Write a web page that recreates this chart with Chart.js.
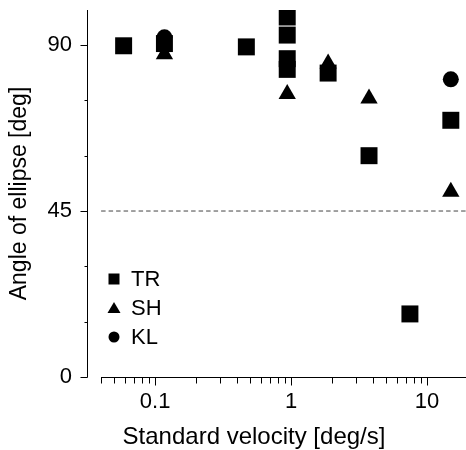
<!DOCTYPE html>
<html>
<head>
<meta charset="utf-8">
<script src="https://cdn.jsdelivr.net/npm/chart.js@4.4.0/dist/chart.umd.min.js"></script>
<style>
  html, body { margin: 0; padding: 0; background: #fff; }
</style>
</head>
<body>
<canvas id="ellipseChart" width="466" height="450"></canvas>
<script>
// values
const velTR = [0.0586, 0.117, 0.469, 0.9375, 0.9375, 0.9375, 0.9375, 1.875, 3.75, 7.5, 15];
const angTR = [89.8, 90.4, 89.5, 97.6, 92.7, 86.3, 83.4, 82.4, 60.0, 17.1, 69.6];
const velSH = [0.117, 0.9375, 1.875, 3.75, 15];
const angSH = [87.5, 76.7, 85.0, 75.5, 50.2];
const velKL = [0.117, 15];
const angKL = [92.1, 80.7];

const refVel = [0.04, 19.4];
const refAng = [45, 45];

const xTicks = [0.04, 0.05, 0.06, 0.07, 0.08, 0.09, 0.1, 0.2, 0.3, 0.4, 0.5, 0.6, 0.7, 0.8, 0.9,
                1, 2, 3, 4, 5, 6, 7, 8, 9, 10];
const xLabels = [0.1, 1, 10];
const yTicks = [0, 15, 30, 45, 60, 75, 90];
const yLabels = [0, 45, 90];

const seriesNames = ['TR', 'SH', 'KL'];
const xTitle = 'Standard velocity [deg/s]';

const font = 'Liberation Sans';

function pts(xs, ys) {
  return xs.map((x, i) => ({ x: x, y: ys[i] }));
}

// axis lines and tick marks of two lengths, drawn from the scales
const axisPlugin = {
  id: 'axes',
  afterDraw(chart) {
    const ctx = chart.ctx;
    const x = chart.scales.x;
    const y = chart.scales.y;
    const area = chart.chartArea;
    const left = Math.round(area.left) + 0.5;
    const bottom = Math.round(area.bottom) + 0.5;
    ctx.save();
    ctx.strokeStyle = '#000';
    ctx.lineWidth = 1;
    ctx.beginPath();
    ctx.moveTo(left, Math.round(area.top));
    ctx.lineTo(left, bottom);
    ctx.moveTo(Math.round(x.getPixelForValue(xTicks[0])), bottom);
    ctx.lineTo(area.right, bottom);
    x.ticks.forEach(t => {
      const px = Math.round(x.getPixelForValue(t.value)) + 0.5;
      const len = xLabels.includes(t.value) ? 8 : 6;
      ctx.moveTo(px, bottom);
      ctx.lineTo(px, bottom + len);
    });
    y.ticks.forEach(t => {
      const py = Math.round(y.getPixelForValue(t.value)) + 0.5;
      const len = yLabels.includes(t.value) ? 7 : 3;
      ctx.moveTo(left, py);
      ctx.lineTo(left - len, py);
    });
    ctx.stroke();

    // x title sits a bit left of the axis centre in the original
    ctx.fillStyle = '#000';
    ctx.font = '24px "' + font + '"';
    ctx.textAlign = 'center';
    ctx.textBaseline = 'middle';
    ctx.fillText(xTitle, area.left + 167, area.bottom + 60);
    ctx.restore();
  }
};

// legend sitting inside the plot, lower left
const legendPlugin = {
  id: 'innerLegend',
  afterDraw(chart) {
    const ctx = chart.ctx;
    const area = chart.chartArea;
    const mx = area.left + 27;
    const tx = area.left + 44;
    ctx.save();
    ctx.fillStyle = '#000';
    ctx.font = '22px "' + font + '"';
    ctx.textBaseline = 'middle';
    seriesNames.forEach((name, i) => {
      const my = area.top + 269 + i * 29;
      ctx.beginPath();
      if (i === 0) {
        ctx.rect(mx - 5.5, my - 5.5, 11, 11);
      } else if (i === 1) {
        ctx.moveTo(mx, my - 6);
        ctx.lineTo(mx + 6.5, my + 5);
        ctx.lineTo(mx - 6.5, my + 5);
        ctx.closePath();
      } else {
        ctx.arc(mx, my, 5.5, 0, Math.PI * 2);
      }
      ctx.fill();
      ctx.fillText(name, tx, my + 1);
    });
    ctx.restore();
  }
};

new Chart(document.getElementById('ellipseChart').getContext('2d'), {
  type: 'scatter',
  data: {
    datasets: [
      {
        label: 'TR',
        data: pts(velTR, angTR),
        pointStyle: 'rect',
        pointRadius: 12,
        backgroundColor: '#000',
        borderWidth: 0
      },
      {
        label: 'SH',
        data: pts(velSH, angSH),
        pointStyle: 'triangle',
        pointRadius: 10,
        backgroundColor: '#000',
        borderWidth: 0
      },
      {
        label: 'KL',
        data: pts(velKL, angKL),
        pointStyle: 'circle',
        pointRadius: 8,
        backgroundColor: '#000',
        borderWidth: 0
      },
      {
        type: 'line',
        label: 'ref',
        data: pts(refVel, refAng),
        borderColor: '#444',
        borderWidth: 1,
        borderDash: [4.5, 3],
        pointRadius: 0,
        fill: false
      }
    ]
  },
  options: {
    responsive: false,
    animation: false,
    events: [],
    layout: { autoPadding: false, padding: { top: 10, right: 0, left: 0, bottom: 0 } },
    scales: {
      x: {
        type: 'logarithmic',
        min: 0.0315,
        max: 19.4,
        afterBuildTicks: s => { s.ticks = xTicks.map(v => ({ value: v })); },
        afterFit: s => { s.height = 73; s.paddingLeft = 0; s.paddingRight = 0; },
        grid: { drawOnChartArea: false, tickLength: 8, color: 'rgba(0,0,0,0)', tickColor: 'rgba(0,0,0,0)' },
        border: { display: false },
        ticks: {
          autoSkip: false,
          maxRotation: 0,
          padding: 4,
          color: '#000',
          font: { family: font, size: 22 },
          callback: v => xLabels.includes(v) ? String(v) : ''
        },
        title: { display: false }
      },
      y: {
        min: 0,
        max: 99.5,
        afterBuildTicks: s => { s.ticks = yTicks.map(v => ({ value: v })); },
        afterFit: s => { s.width = 87; s.paddingTop = 0; s.paddingBottom = 0; },
        grid: { drawOnChartArea: false, tickLength: 7, color: 'rgba(0,0,0,0)', tickColor: 'rgba(0,0,0,0)' },
        border: { display: false },
        ticks: {
          autoSkip: false,
          padding: 8,
          color: '#000',
          font: { family: font, size: 22 },
          callback: v => yLabels.includes(v) ? String(v) : ''
        },
        title: {
          display: true,
          text: 'Angle of ellipse [deg]',
          color: '#000',
          font: { family: font, size: 23 },
          padding: { top: 6, bottom: 0 }
        }
      }
    },
    plugins: {
      legend: { display: false },
      tooltip: { enabled: false }
    }
  },
  plugins: [axisPlugin, legendPlugin]
});
</script>
</body>
</html>
